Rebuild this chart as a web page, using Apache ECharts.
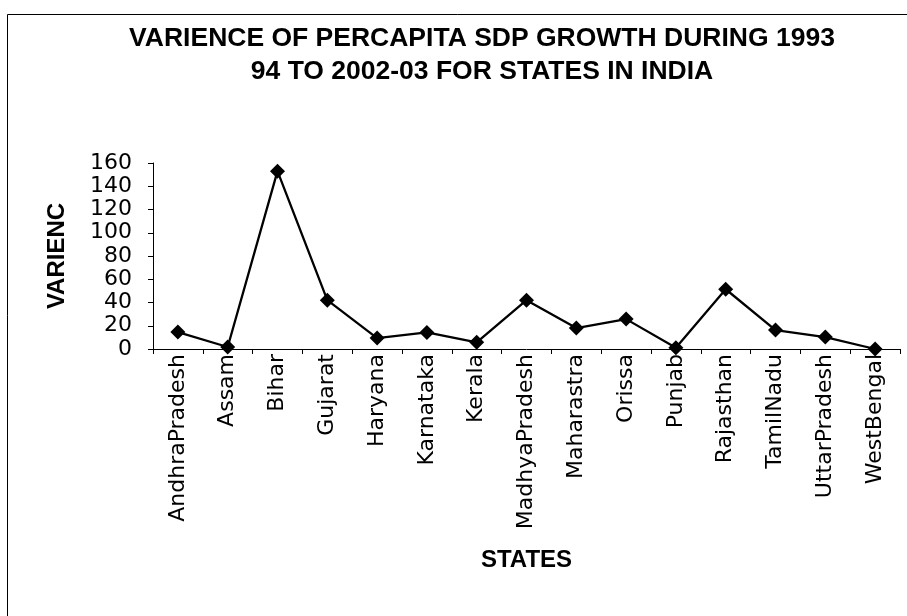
<!DOCTYPE html>
<html>
<head>
<meta charset="utf-8">
<script src="https://cdn.jsdelivr.net/npm/echarts@6/dist/echarts.min.js"></script>
<style>
  html, body { margin: 0; padding: 0; background: #fff; }
  #chart { width: 907px; height: 616px; }
</style>
</head>
<body>
<div id="chart"></div>
<script>
// States on the category axis
const states = [
  'AndhraPradesh', 'Assam', 'Bihar', 'Gujarat', 'Haryana', 'Karnataka', 'Kerala',
  'MadhyaPradesh', 'Maharastra', 'Orissa', 'Punjab', 'Rajasthan', 'TamilNadu',
  'UttarPradesh', 'WestBengal'
];

// Variance of per-capita SDP growth, 1993-94 to 2002-03
const varianceValues = [
  14.6, 1.7, 153, 42, 9.4, 14.3, 5.7,
  42, 18, 25.7, 1.1, 51.4, 16.3,
  10.3, 0
];

// Value axis range and step
const yMin = 0;
const yMax = 160;
const yStep = 20;

const titleLines = [
  'VARIENCE OF PERCAPITA SDP GROWTH DURING 1993',
  '94 TO 2002-03 FOR STATES IN INDIA'
];

const boldFont = '"Liberation Sans", Arial, sans-serif';
const tickFont = '"DejaVu Sans", Verdana, sans-serif';

const chart = echarts.init(document.getElementById('chart'), null, { renderer: 'canvas' });

chart.setOption({
  backgroundColor: '#ffffff',
  animation: false,
  title: {
    text: titleLines.join('\n'),
    left: 477,
    top: 17,
    textAlign: 'center',
    textStyle: {
      fontFamily: boldFont,
      fontWeight: 'bold',
      fontSize: 26.5,
      lineHeight: 33,
      color: '#000'
    }
  },
  graphic: [{
    type: 'rect',
    shape: { x: 7.5, y: 14.5, width: 910, height: 610 },
    style: { fill: 'none', stroke: '#000', lineWidth: 1 },
    silent: true
  }],
  grid: {
    left: 153,
    right: 7,
    top: 163,
    bottom: 267,
    containLabel: false
  },
  xAxis: {
    type: 'category',
    data: states,
    boundaryGap: true,
    name: 'STATES',
    nameLocation: 'middle',
    nameGap: 199,
    nameTextStyle: {
      fontFamily: boldFont,
      fontWeight: 'bold',
      fontSize: 24,
      color: '#000'
    },
    axisLine: { show: true, lineStyle: { color: '#000', width: 1 } },
    axisTick: { show: true, alignWithLabel: false, inside: false, length: 5, lineStyle: { color: '#000' } },
    axisLabel: {
      interval: 0,
      rotate: 90,
      margin: 5,
      fontFamily: tickFont,
      fontSize: 22,
      color: '#000'
    },
    splitLine: { show: false }
  },
  yAxis: {
    type: 'value',
    min: yMin,
    max: yMax,
    interval: yStep,
    name: 'VARIENC',
    nameLocation: 'middle',
    nameGap: 84,
    nameRotate: 90,
    nameTextStyle: {
      fontFamily: boldFont,
      fontWeight: 'bold',
      fontSize: 24,
      color: '#000'
    },
    axisLine: { show: true, lineStyle: { color: '#000', width: 1 } },
    axisTick: { show: true, inside: false, length: 5, lineStyle: { color: '#000' } },
    axisLabel: {
      margin: 21,
      fontFamily: tickFont,
      fontSize: 22,
      color: '#000'
    },
    splitLine: { show: false }
  },
  series: [{
    type: 'line',
    data: varianceValues,
    symbol: 'diamond',
    symbolSize: 15,
    showAllSymbol: true,
    lineStyle: { color: '#000', width: 2.3 },
    itemStyle: { color: '#000' },
    z: 3
  }]
});
</script>
</body>
</html>
